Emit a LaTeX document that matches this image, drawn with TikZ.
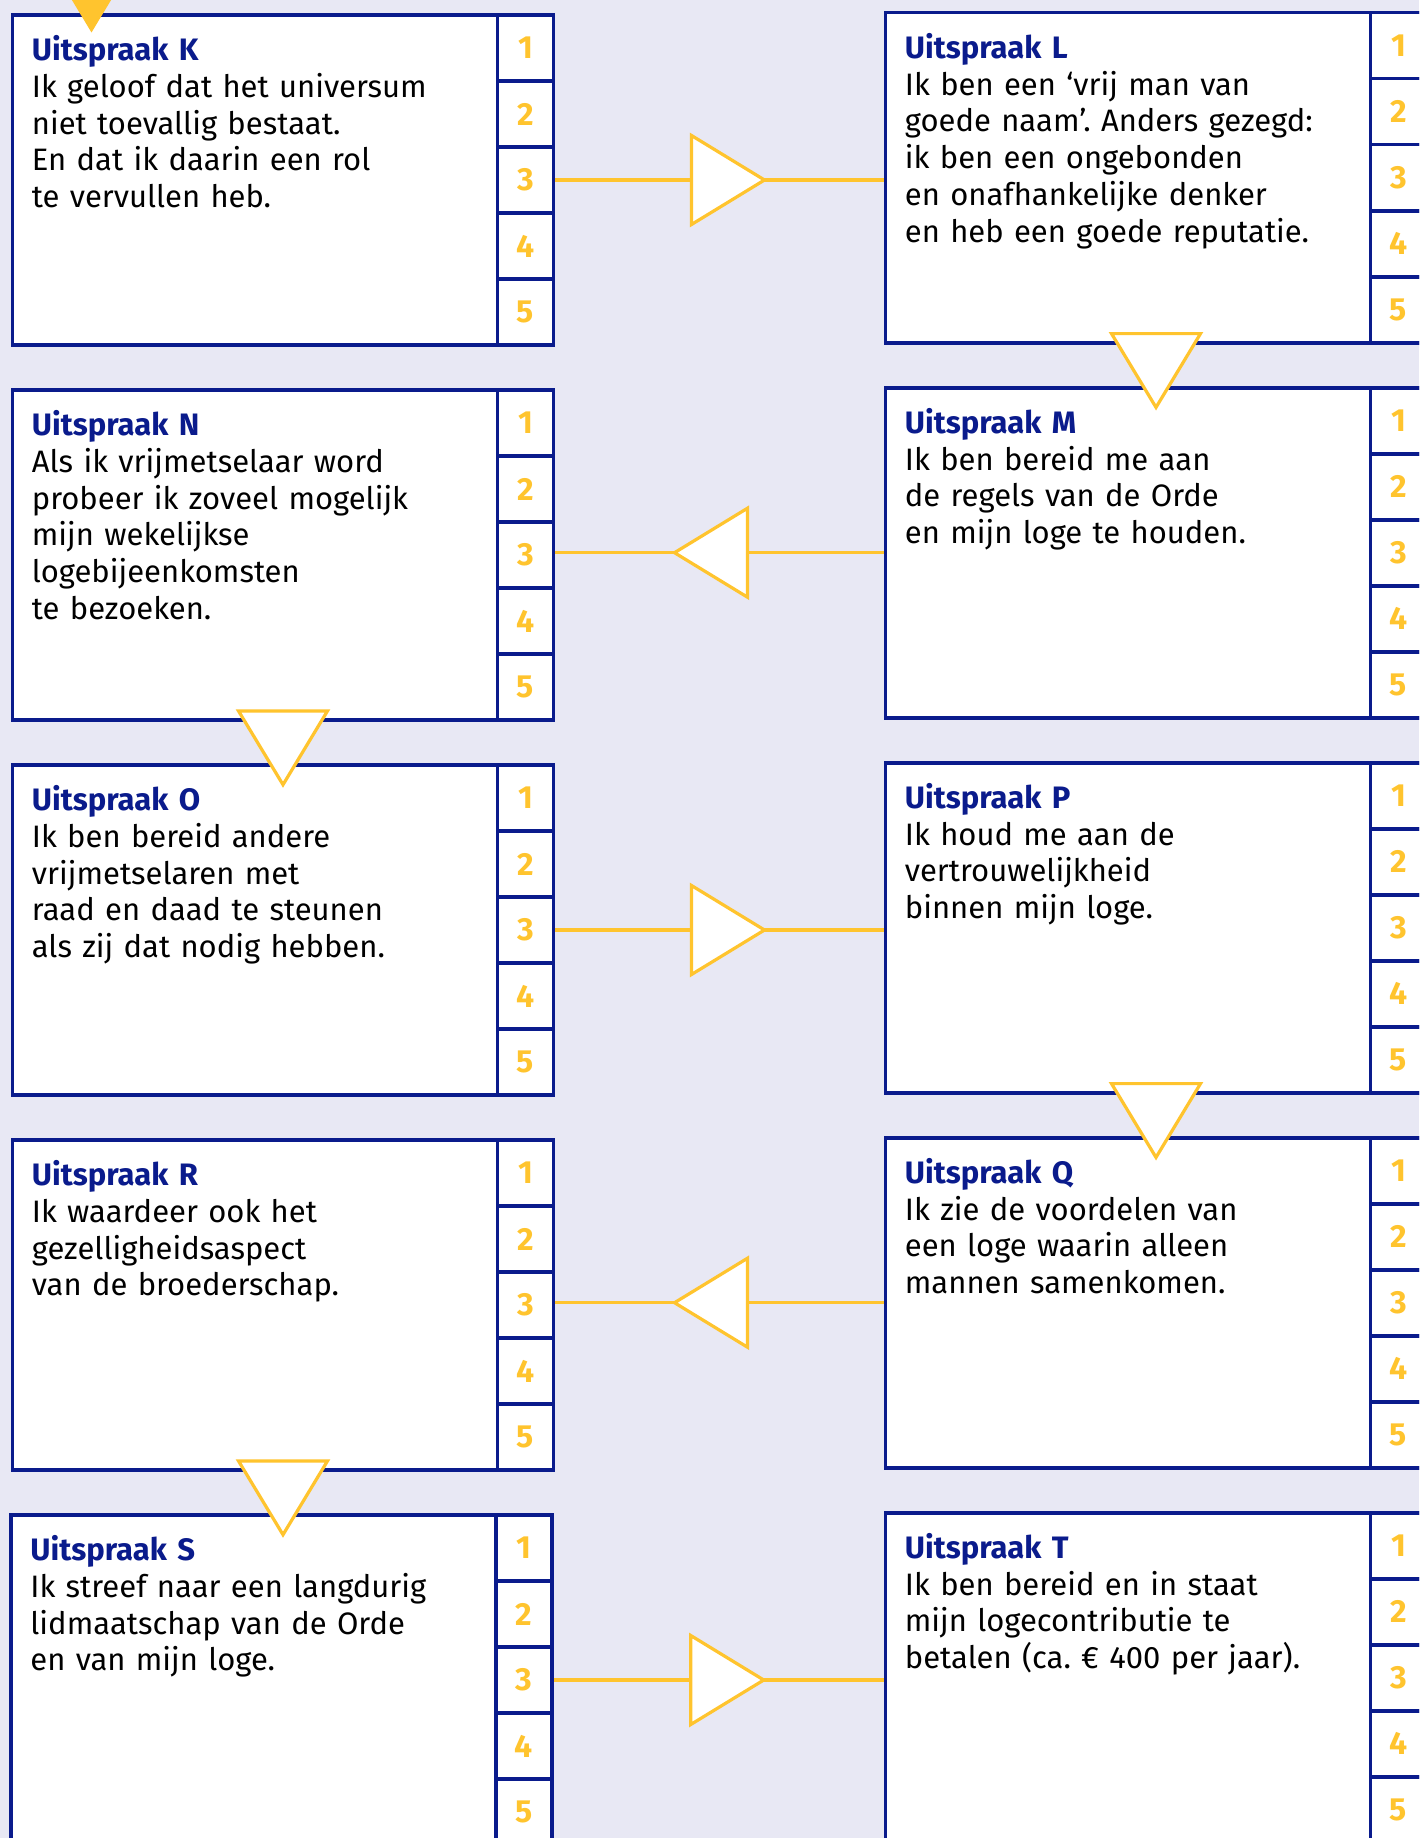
\documentclass[tikz,border=0pt]{standalone}
\usepackage{fontspec}
\setmainfont{Fira Sans}[WordSpace=0.9]
\usepackage{xcolor}
\usetikzlibrary{shapes,arrows,positioning}
\definecolor{orde}{RGB}{10,27,140}
\definecolor{goud}{RGB}{255,196,46}
\definecolor{papier}{RGB}{232,232,244}
\frenchspacing

\tikzset{
  pics/wijsrechts/.style={code={\draw [pointer] (-28pt,-44.5pt) -- (45pt,0pt) -- (-28pt,44.5pt) -- cycle;}},
  pics/wijslinks/.style={code={\draw [pointer] (28pt,-44.5pt) -- (-45pt,0pt) -- (28pt,44.5pt) -- cycle;}},
  pics/wijsomlaag/.style={code={\draw [pointer] (-44.5pt,31.6pt) -- (0pt,-42.2pt) -- (44.5pt,31.6pt) -- cycle;}},
  pics/instroom/.style={code={\fill [goud] (-44.5pt,31.6pt) -- (0pt,-42.2pt) -- (44.5pt,31.6pt) -- cycle;}}
}

% text and score column of one statement box
\newcommand{\vul}[3]{%
  \node [tekst, anchor=north west] (#1-tekst) at ([shift={(21pt,-22pt)}]#1.north west) {\textcolor{orde}{\bfseries #2}\\#3};
  \foreach \n in {1,...,5}
    \node [score, anchor=north east, yshift={-(\n-1)*66pt}] (#1-\n) at (#1.north east) {\n};
}

\begin{document}
\begin{tikzpicture}[x=1pt, y=1pt, node distance=873pt]
        \tikzstyle{uitspraak} = [rectangle, draw=orde, fill=white, line width=3.6pt, minimum width=541pt, minimum height=330pt, inner sep=0pt]
        \tikzstyle{score} = [rectangle, draw=orde, line width=3.6pt, minimum width=56pt, minimum height=66pt, inner sep=0pt, text=goud, font=\fontsize{32pt}{32pt}\selectfont\bfseries]
        \tikzstyle{tekst} = [inner sep=0pt, text width=470pt, align=left, font=\fontsize{31pt}{36.8pt}\selectfont]
        \tikzstyle{line} = [draw=goud, line width=3.5pt]
        \tikzstyle{pointer} = [draw=goud, fill=white, line width=3.2pt, line join=miter]

    \useasboundingbox (0,0) rectangle (1419,-1838);
    \clip (0,0) rectangle (1419,-1838);
    \fill [papier] (0,0) rectangle (1419,-1838);

    \node [uitspraak] (K) at (283,-180) {};
    \node [uitspraak, right of=K, yshift=2.3pt] (L) {};
    \node [uitspraak, below of=K, node distance=375pt] (N) {};
    \node [uitspraak, below of=L, node distance=375pt] (M) {};
    \node [uitspraak, below of=N, node distance=375pt] (O) {};
    \node [uitspraak, below of=M, node distance=375pt] (P) {};
    \node [uitspraak, below of=O, node distance=375pt] (R) {};
    \node [uitspraak, below of=P, node distance=375pt] (Q) {};
    \node [uitspraak, below of=R, node distance=375pt, xshift=-1.5pt] (S) {};
    \node [uitspraak, below of=Q, node distance=375pt] (T) {};

    \vul{K}{Uitspraak K}{Ik geloof dat het universum\\niet toevallig bestaat.\\En dat ik daarin een rol\\te vervullen heb.}
    \vul{L}{Uitspraak L}{Ik ben een ‘vrij man van\\goede naam’. Anders gezegd:\\ik ben een ongebonden\\en onafhankelijke denker\\en heb een goede reputatie.}
    \vul{M}{Uitspraak M}{Ik ben bereid me aan\\de regels van de Orde\\en mijn loge te houden.}
    \vul{N}{Uitspraak N}{Als ik vrijmetselaar word\\probeer ik zoveel mogelijk\\mijn wekelijkse\\logebijeenkomsten\\te bezoeken.}
    \vul{O}{Uitspraak O}{Ik ben bereid andere\\vrijmetselaren met\\raad en daad te steunen\\als zij dat nodig hebben.}
    \vul{P}{Uitspraak P}{Ik houd me aan de\\vertrouwelijkheid\\binnen mijn loge.}
    \vul{Q}{Uitspraak Q}{Ik zie de voordelen van\\een loge waarin alleen\\mannen samenkomen.}
    \vul{R}{Uitspraak R}{Ik waardeer ook het\\gezelligheidsaspect\\van de broederschap.}
    \vul{S}{Uitspraak S}{Ik streef naar een langdurig\\lidmaatschap van de Orde\\en van mijn loge.}
    \vul{T}{Uitspraak T}{Ik ben bereid en in staat\\mijn logecontributie te\\betalen (ca. € 400 per jaar).}

    \path [line] (K.east) -- coordinate[midway] (KL) (K.east -| L.west);
    \path [line] (M.west) -- coordinate[midway] (MN) (M.west -| N.east);
    \path [line] (O.east) -- coordinate[midway] (OP) (O.east -| P.west);
    \path [line] (Q.west) -- coordinate[midway] (QR) (Q.west -| R.east);
    \path [line] (S.east) -- coordinate[midway] (ST) (S.east -| T.west);
    \path (L.south) -- coordinate[midway] (LM) (M.north);
    \path (N.south) -- coordinate[midway] (NO) (O.north);
    \path (P.south) -- coordinate[midway] (PQ) (Q.north);
    \path (R.south) -- coordinate[midway] (RS) (S.north -| R.south);

    \pic at (KL) {wijsrechts};
    \pic at (MN) {wijslinks};
    \pic at (OP) {wijsrechts};
    \pic at (QR) {wijslinks};
    \pic at (ST) {wijsrechts};
    \pic at (LM) {wijsomlaag};
    \pic at (NO) {wijsomlaag};
    \pic at (PQ) {wijsomlaag};
    \pic at (RS) {wijsomlaag};

    % incoming from the previous page
    \pic at ([shift={(80.8pt,22.9pt)}]K.north west) {instroom};
\end{tikzpicture}
\end{document}
